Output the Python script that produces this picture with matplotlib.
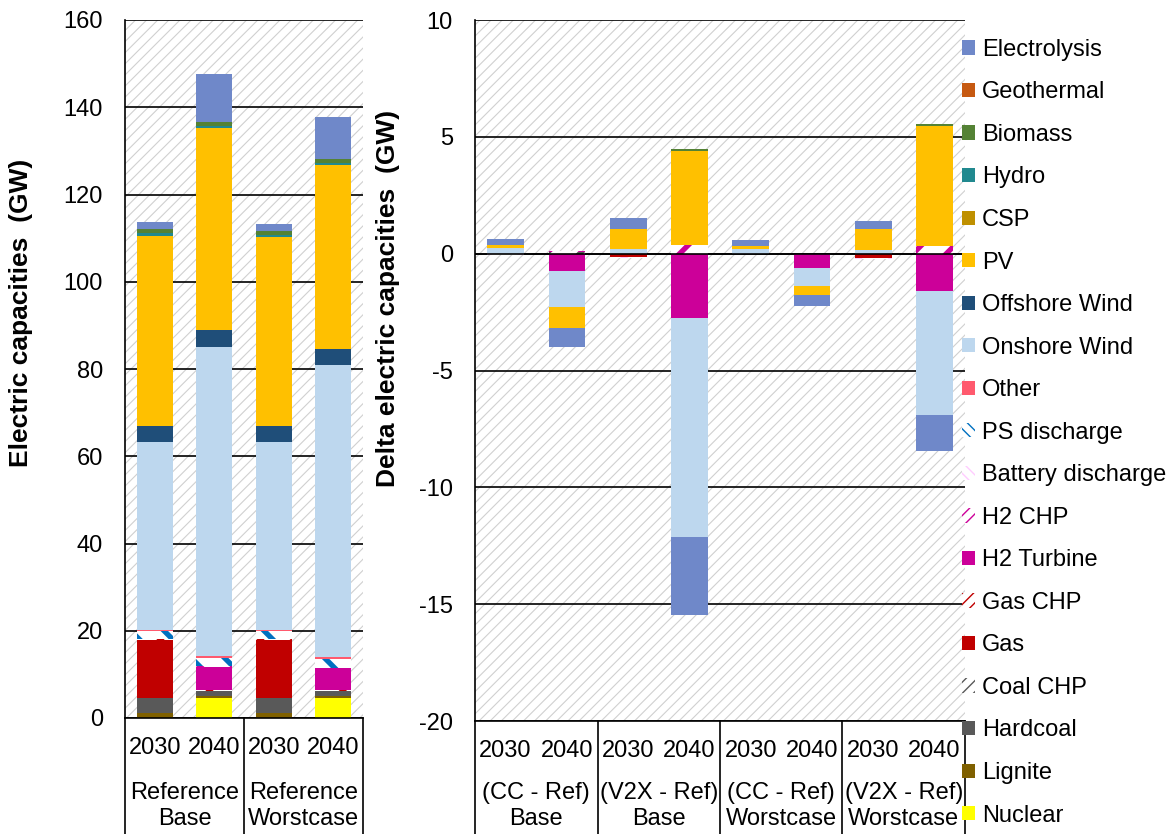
import numpy as np
import matplotlib
matplotlib.use('Agg')
import matplotlib.pyplot as plt
from matplotlib.patches import Patch, Rectangle
from matplotlib import transforms

# ---- data -------------------------------------------------------------
techs = ['Nuclear', 'Lignite', 'Hardcoal', 'Coal CHP', 'Gas', 'Gas CHP',
         'H2 Turbine', 'H2 CHP', 'Battery discharge', 'PS discharge', 'Other',
         'Onshore Wind', 'Offshore Wind', 'PV', 'CSP', 'Hydro', 'Biomass',
         'Geothermal', 'Electrolysis']

years = ['2030', '2040']
ref_groups = ['Reference\nBase', 'Reference\nWorstcase']
delta_groups = ['(CC - Ref)\nBase', '(V2X - Ref)\nBase',
                '(CC - Ref)\nWorstcase', '(V2X - Ref)\nWorstcase']

# reference capacities (GW): Base 2030, Base 2040, Worst 2030, Worst 2040
ref_nuclear = [0, 4.6, 0, 4.6]
ref_lignite = [1.1, 0.4, 1.1, 0.4]
ref_hardcoal = [3.4, 1.1, 3.4, 1.1]
ref_coal_chp = [0, 0.2, 0, 0.2]
ref_gas = [13.4, 0, 13.4, 0]
ref_gas_chp = [0.1, 0.1, 0.1, 0.1]
ref_h2_turbine = [0, 5.4, 0, 5.0]
ref_h2_chp = [0, 0.1, 0, 0.1]
ref_battery = [0, 0, 0, 0]
ref_ps = [1.9, 1.9, 1.9, 2.0]
ref_other = [0.3, 0.3, 0.3, 0.4]
ref_onshore = [43.1, 71.0, 43.0, 67.0]
ref_offshore = [3.7, 3.8, 3.7, 3.7]
ref_pv = [43.6, 46.3, 43.4, 42.1]
ref_csp = [0, 0, 0, 0]
ref_hydro = [0.5, 0.5, 0.5, 0.5]
ref_biomass = [0.9, 1.0, 0.8, 1.0]
ref_geothermal = [0, 0, 0, 0]
ref_electrolysis = [1.6, 11.0, 1.6, 9.6]

# deltas (GW): CC Base, V2X Base, CC Worst, V2X Worst (2030, 2040 each)
d_nuclear = [0, 0, 0, 0, 0, 0, 0, 0]
d_lignite = [0, 0, 0, 0, 0, 0, 0, 0]
d_hardcoal = [0, 0, 0, 0, 0, 0, 0, 0]
d_coal_chp = [0, 0.05, 0, 0, 0, 0, 0, 0]
d_gas = [0, 0, -0.16, 0, 0, 0, -0.2, 0]
d_gas_chp = [0, 0, 0, 0, 0, 0, 0, 0]
d_h2_turbine = [0, -0.73, 0, -2.75, 0, -0.6, 0, -1.61]
d_h2_chp = [0, 0.05, 0, 0.38, 0, 0, 0, 0.31]
d_battery = [-0.04, 0, -0.04, 0, -0.03, 0, -0.03, 0]
d_ps = [0, 0, 0, 0, 0, 0, 0, 0]
d_other = [0, 0, 0, 0, 0, 0, 0, 0]
d_onshore = [0.24, -1.57, 0.19, -9.39, 0.2, -0.8, 0.16, -5.28]
d_offshore = [0, 0, 0, 0, 0, 0, 0, 0]
d_pv = [0.11, -0.9, 0.88, 4.0, 0.14, -0.36, 0.88, 5.17]
d_csp = [0, 0, 0, 0, 0, 0, 0, 0]
d_hydro = [0, 0, 0, 0, 0, 0, 0, 0]
d_biomass = [0, 0, 0, 0.08, 0, 0, 0, 0.06]
d_geothermal = [0, 0, 0, 0, 0, 0, 0, 0]
d_electrolysis = [0.29, -0.78, 0.47, -3.34, 0.23, -0.47, 0.37, -1.54]

ref_data = [ref_nuclear, ref_lignite, ref_hardcoal, ref_coal_chp, ref_gas,
            ref_gas_chp, ref_h2_turbine, ref_h2_chp, ref_battery, ref_ps,
            ref_other, ref_onshore, ref_offshore, ref_pv, ref_csp, ref_hydro,
            ref_biomass, ref_geothermal, ref_electrolysis]
delta_data = [d_nuclear, d_lignite, d_hardcoal, d_coal_chp, d_gas, d_gas_chp,
              d_h2_turbine, d_h2_chp, d_battery, d_ps, d_other, d_onshore,
              d_offshore, d_pv, d_csp, d_hydro, d_biomass, d_geothermal,
              d_electrolysis]

# ---- styles: (face, hatch colour, hatch) -----------------------------
styles = {
    'Nuclear': ('#FFFF00', None, None),
    'Lignite': ('#7F6000', None, None),
    'Hardcoal': ('#595959', None, None),
    'Coal CHP': ('white', '#595959', '/'),
    'Gas': ('#C00000', None, None),
    'Gas CHP': ('white', '#C00000', '/'),
    'H2 Turbine': ('#CC0099', None, None),
    'H2 CHP': ('white', '#CC0099', '/'),
    'Battery discharge': ('white', '#FFCCFF', '\\'),
    'PS discharge': ('white', '#0070C0', '\\'),
    'Other': ('#FF5A6E', None, None),
    'Onshore Wind': ('#BDD7EE', None, None),
    'Offshore Wind': ('#1F4E79', None, None),
    'PV': ('#FFC000', None, None),
    'CSP': ('#BF9000', None, None),
    'Hydro': ('#21898F', None, None),
    'Biomass': ('#548235', None, None),
    'Geothermal': ('#C65911', None, None),
    'Electrolysis': ('#6F88C9', None, None),
}

plt.rcParams['font.family'] = ['Liberation Sans', 'DejaVu Sans']
plt.rcParams['font.size'] = 17
plt.rcParams['axes.unicode_minus'] = False

fig = plt.figure(figsize=(11.76, 8.34), dpi=100)
W, H = 1176, 834


def add_axes(x0, x1, ytop, ybot):
    return fig.add_axes([x0 / W, (H - ybot) / H, (x1 - x0) / W, (ybot - ytop) / H])


def background(ax):
    with plt.rc_context({'hatch.linewidth': 0.8}):
        bg = Rectangle((0, 0), 1, 1, transform=ax.transAxes, facecolor='white',
                       edgecolor='#D0D0D0', hatch='///', lw=0, zorder=0)
    ax.add_patch(bg)


def stacked(ax, x, data):
    pos = np.zeros(len(x))
    neg = np.zeros(len(x))
    with plt.rc_context({'hatch.linewidth': 3.8}):
        for name, vals in zip(techs, data):
            vals = np.array(vals, dtype=float)
            face, hcol, hatch = styles[name]
            p = np.where(vals > 0, vals, 0)
            n = np.where(vals < 0, vals, 0)
            kw = dict(width=0.6, color=face, lw=0, zorder=2)
            if hatch:
                kw.update(edgecolor=hcol, hatch=hatch)
            ax.bar(x, p, bottom=pos, **kw)
            ax.bar(x, n, bottom=neg, **kw)
            pos += p
            neg += n


def table(ax, groups, yrs):
    n = len(groups)
    trans = transforms.blended_transform_factory(ax.transAxes, fig.transFigure)
    for i in range(n + 1):
        ax.plot([i / n, i / n], [0, ax.get_position().y0], transform=trans,
                color='black', lw=1.2, clip_on=False)
    xt = np.arange(n * len(yrs))
    ax.set_xticks(xt, yrs * n)
    ax.tick_params(axis='x', length=0, pad=14)
    tx = transforms.blended_transform_factory(ax.transData, fig.transFigure)
    for i, g in enumerate(groups):
        ax.text(2 * i + 0.5, (H - 806) / H, g, transform=tx, ha='center',
                va='center', linespacing=1.2)


def style_axes(ax, ymin, ymax, step):
    ax.set_ylim(ymin, ymax)
    ax.set_yticks(np.arange(ymin, ymax + 0.1, step))
    ax.tick_params(axis='y', length=0, pad=16)
    ax.set_axisbelow(True)
    ax.grid(axis='y', color='black', lw=1.2)
    ax.grid(axis='x', visible=False)
    for s in ['top', 'right']:
        ax.spines[s].set_visible(False)
    ax.spines['left'].set_linewidth(1.2)
    ax.spines['bottom'].set_linewidth(1.2)


# left: reference capacities
ax1 = add_axes(125, 363, 20, 718)
background(ax1)
stacked(ax1, np.arange(4), ref_data)
ax1.set_xlim(-0.5, 3.5)
style_axes(ax1, 0, 160, 20)
table(ax1, ref_groups, years)

# right: deltas
ax2 = add_axes(475, 965, 20, 721)
background(ax2)
stacked(ax2, np.arange(8), delta_data)
ax2.set_xlim(-0.5, 7.5)
style_axes(ax2, -20, 10, 5)
ax2.axhline(0, color='black', lw=1.2, zorder=3)
table(ax2, delta_groups, years)

fig.text(21 / W, (H - 313) / H, 'Electric capacities  (GW)', rotation=90,
         ha='center', va='center', fontweight='bold', fontsize=19)
fig.text(388 / W, (H - 298) / H, 'Delta electric capacities  (GW)', rotation=90,
         ha='center', va='center', fontweight='bold', fontsize=19)

# legend, top entry first
handles = []
with plt.rc_context({'hatch.linewidth': 3.0}):
    for name in techs[::-1]:
        face, hcol, hatch = styles[name]
        if hatch:
            handles.append(Patch(facecolor=face, edgecolor=hcol, hatch=hatch * 3,
                                 lw=0, label=name))
        else:
            handles.append(Patch(facecolor=face, lw=0, label=name))
fig.legend(handles=handles, loc='upper left', bbox_to_anchor=(950 / W, (H - 27) / H),
           frameon=False, handlelength=0.55, handleheight=0.55, handletextpad=0.3,
           labelspacing=0.87, borderpad=0, fontsize=17)

fig.savefig('out.png', dpi=100)
